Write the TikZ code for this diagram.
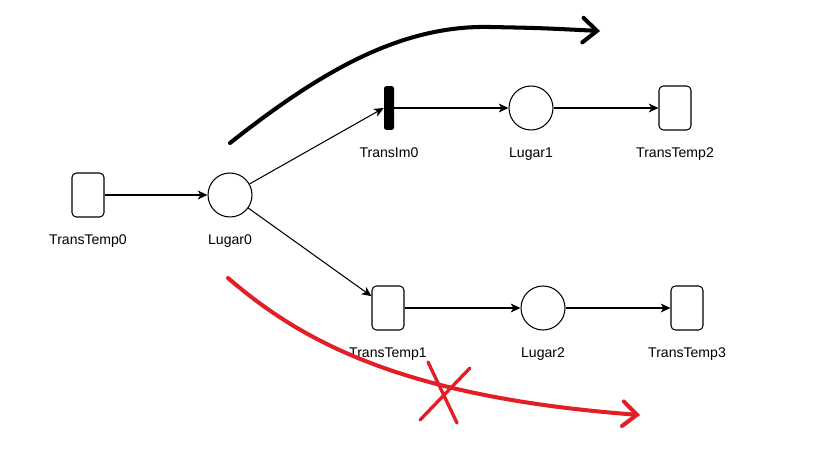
\documentclass[tikz,border=0pt]{standalone}
\usepackage{fontspec}
\setmainfont{Liberation Sans}
\usetikzlibrary{arrows.meta}
\definecolor{pen}{RGB}{226,30,38}
\begin{document}
\begin{tikzpicture}[x=0.02cm,y=-0.02cm,
    every node/.style={font=\fontsize{8}{9.5}\selectfont},
    every label/.style={inner sep=0pt},
    place/.style={circle,draw,line width=0.6pt,minimum size=0.88cm,inner sep=0pt,
      label={[label distance=0.34cm]below:#1}},
    ttrans/.style={draw,line width=0.6pt,rounded corners=2.5pt,minimum width=0.64cm,
      minimum height=0.88cm,inner sep=0pt,label={[label distance=0.34cm]below:#1}},
    itrans/.style={fill=black,rounded corners=1pt,minimum width=0.2cm,
      minimum height=0.88cm,inner sep=0pt,label={[label distance=0.34cm]below:#1}},
    arc/.style={line width=0.6pt,-{Stealth[length=5.5pt,width=5pt,inset=1.5pt]}},
    sketch/.style={line width=2.3pt,line cap=round,line join=round,
      -{Straight Barb[length=8pt,width=14pt,line cap=round]}}]
 \useasboundingbox (0,0) rectangle (827,452);
 % the net
 \node[ttrans=TransTemp0] (TT0) at (88,195) {};
 \node[place=Lugar0] (L0) at (230,195) {};
 \node[itrans=TransIm0] (TI0) at (389,108) {};
 \node[place=Lugar1] (L1) at (531,108) {};
 \node[ttrans=TransTemp2] (TT2) at (675,108) {};
 \node[ttrans=TransTemp1] (TT1) at (388,308) {};
 \node[place=Lugar2] (L2) at (543,308) {};
 \node[ttrans=TransTemp3] (TT3) at (687,308) {};
 \draw[arc] (TT0) -- (L0);
 \draw[arc] (L0) -- (TI0.west);
 \draw[arc] (L0) -- (TT1);
 \draw[arc] (TI0) -- (L1);
 \draw[arc] (L1) -- (TT2);
 \draw[arc] (TT1) -- (L2);
 \draw[arc] (L2) -- (TT3);
 % hand drawn marks
 \path (230,143) coordinate (BS) (600,31) coordinate (BE)
  (228,278) coordinate (RS) (640,415) coordinate (RE);
 \draw[sketch] (BS) .. controls (320,72) and (400,25) .. (490,27)
  .. controls (540,28) .. (BE);
 \draw[sketch,pen] (RS) .. controls (300,340) and (400,397) .. (RE);
 \draw[pen,line width=1.9pt,line cap=round] (428,362) -- (457,423)
  (470,368) -- (420,420);
\end{tikzpicture}
\end{document}
